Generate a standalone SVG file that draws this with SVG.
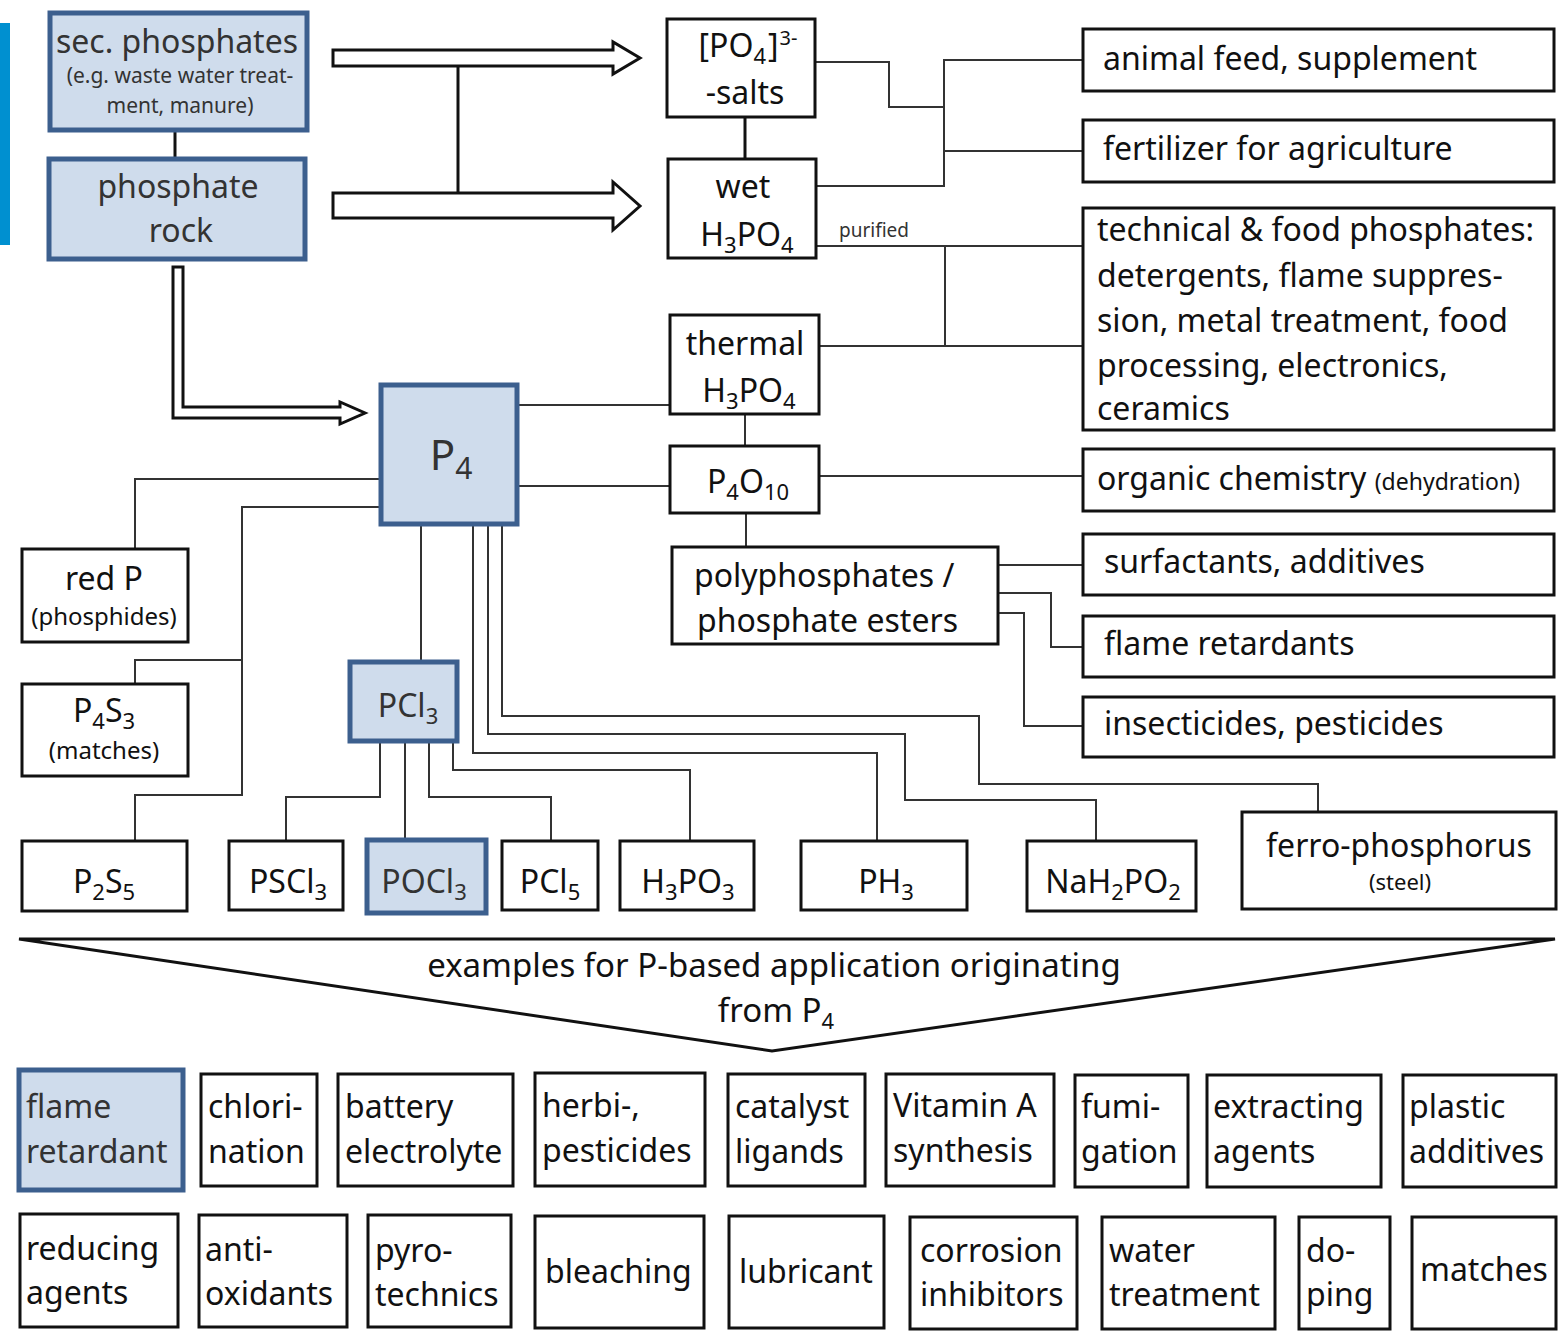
<svg xmlns="http://www.w3.org/2000/svg" width="1562" height="1333" viewBox="0 0 1562 1333">
<style>
.box{fill:#fff;stroke:#111;stroke-width:3}
.bbox{fill:#cfdcec;stroke:#3c5f8e;stroke-width:5}
.ln{fill:none;stroke:#333;stroke-width:2}
.arr{fill:#fff;stroke:#111;stroke-width:3;stroke-linejoin:miter}
.t{font-family:"Noto Sans","Open Sans",sans-serif;font-size:32px;fill:#111}
.g{fill:#333}
.c{text-anchor:middle}
.s{font-size:24px}
.sub{font-size:22px;baseline-shift:-7px}
.sup{font-size:20px;baseline-shift:12px}
</style>
<rect x="0" y="23" width="10" height="222" fill="#0090d0"/>

<g id="connectors">
  <path class="arr" d="M333,50 H613 V42 L640,58 L613,74 V66 H333 Z"/>
  <path class="arr" d="M333,193 H613 V182 L640,206 L613,230 V218 H333 Z"/>
  <path class="arr" d="M173,267 H183 V407 H340 V402 L365,413 L340,424 V418 H173 Z"/>
  <line class="ln" x1="458" y1="66" x2="458" y2="193" style="stroke-width:3;stroke:#111"/>
  <line class="ln" x1="175" y1="132" x2="175" y2="157" style="stroke-width:3;stroke:#111"/>
  <line class="ln" x1="745" y1="118" x2="745" y2="158" style="stroke-width:3;stroke:#111"/>
  <path class="ln" d="M816,62 H889 V107 H944"/>
  <path class="ln" d="M1083,60 H944 V186 H816"/>
  <path class="ln" d="M944,151 H1083"/>
  <path class="ln" d="M816,246 H1083"/>
  <path class="ln" d="M945,246 V346"/>
  <path class="ln" d="M819,346 H1083"/>
  <path class="ln" d="M518,405 H670"/>
  <path class="ln" d="M745,415 V445"/>
  <path class="ln" d="M518,486 H670"/>
  <path class="ln" d="M819,476 H1083"/>
  <path class="ln" d="M746,513 V547"/>
  <path class="ln" d="M998,565 H1083"/>
  <path class="ln" d="M998,593 H1051 V647 H1083"/>
  <path class="ln" d="M998,613 H1024 V726 H1083"/>
  <path class="ln" d="M379,479 H135 V548"/>
  <path class="ln" d="M379,507 H242 V795 H135 V840"/>
  <path class="ln" d="M242,660 H135 V683"/>
  <path class="ln" d="M421,526 V660"/>
  <path class="ln" d="M502,526 V716 H979 V784 H1318 V812"/>
  <path class="ln" d="M488,526 V734 H905 V800 H1096 V840"/>
  <path class="ln" d="M473,526 V753 H877 V840"/>
  <path class="ln" d="M380,743 V797 H286 V840"/>
  <path class="ln" d="M405,743 V838"/>
  <path class="ln" d="M429,743 V797 H551 V840"/>
  <path class="ln" d="M453,743 V770 H690 V840"/>
  <polygon points="19,939 1555,939 772,1051" fill="none" stroke="#111" stroke-width="3"/>
</g>

<g id="sec-phosphates">
  <rect class="bbox" x="50" y="13" width="257" height="117"/>
  <text class="t g c" x="177" y="53">sec. phosphates</text>
  <text class="t g c" x="180" y="83" style="font-size:21px">(e.g. waste water treat-</text>
  <text class="t g c" x="180" y="113" style="font-size:21px">ment, manure)</text>
</g>
<g id="phosphate-rock">
  <rect class="bbox" x="49" y="159" width="256" height="100"/>
  <text class="t g c" x="178" y="198">phosphate</text>
  <text class="t g c" x="181" y="242">rock</text>
</g>
<g id="po4-salts">
  <rect class="box" x="667" y="19" width="148" height="98"/>
  <text class="t c" x="748" y="57">[PO<tspan class="sub">4</tspan><tspan dx="2">]</tspan><tspan class="sup" dx="1">3-</tspan></text>
  <text class="t c" x="745" y="104">-salts</text>
</g>
<g id="wet-h3po4">
  <rect class="box" x="668" y="159" width="148" height="99"/>
  <text class="t c" x="743" y="198">wet</text>
  <text class="t c" x="747" y="246">H<tspan class="sub">3</tspan>PO<tspan class="sub">4</tspan></text>
  <text class="t" x="839" y="237" style="font-size:19px;fill:#333">purified</text>
</g>
<g id="thermal-h3po4">
  <rect class="box" x="670" y="315" width="149" height="99"/>
  <text class="t c" x="745" y="355">thermal</text>
  <text class="t c" x="749" y="402">H<tspan class="sub">3</tspan>PO<tspan class="sub">4</tspan></text>
</g>
<g id="p4">
  <rect class="bbox" x="381" y="385" width="136" height="139"/>
  <text class="t g c" x="451" y="470" style="font-size:42px">P<tspan style="font-size:30px;baseline-shift:-9px">4</tspan></text>
</g>
<g id="p4o10">
  <rect class="box" x="670" y="446" width="149" height="67"/>
  <text class="t c" x="748" y="493">P<tspan class="sub">4</tspan>O<tspan class="sub">10</tspan></text>
</g>
<g id="polyphosphates">
  <rect class="box" x="672" y="547" width="326" height="97"/>
  <text class="t" x="694" y="587">polyphosphates /</text>
  <text class="t" x="697" y="632">phosphate esters</text>
</g>
<g id="animal-feed">
  <rect class="box" x="1083" y="29" width="471" height="62"/>
  <text class="t" x="1103" y="70">animal feed, supplement</text>
</g>
<g id="fertilizer">
  <rect class="box" x="1083" y="120" width="471" height="62"/>
  <text class="t" x="1103" y="160">fertilizer for agriculture</text>
</g>
<g id="technical">
  <rect class="box" x="1083" y="208" width="471" height="222"/>
  <text class="t" x="1097" y="241">technical &amp; food phosphates:</text>
  <text class="t" x="1097" y="287">detergents, flame suppres-</text>
  <text class="t" x="1097" y="332">sion, metal treatment, food</text>
  <text class="t" x="1097" y="377">processing, electronics,</text>
  <text class="t" x="1097" y="420">ceramics</text>
</g>
<g id="organic">
  <rect class="box" x="1083" y="449" width="471" height="62"/>
  <text class="t" x="1097" y="490">organic chemistry <tspan style="font-size:23px">(dehydration)</tspan></text>
</g>
<g id="surfactants">
  <rect class="box" x="1083" y="534" width="471" height="61"/>
  <text class="t" x="1104" y="573">surfactants, additives</text>
</g>
<g id="flame-retardants">
  <rect class="box" x="1083" y="616" width="471" height="61"/>
  <text class="t" x="1104" y="655">flame retardants</text>
</g>
<g id="insecticides">
  <rect class="box" x="1083" y="697" width="471" height="60"/>
  <text class="t" x="1104" y="735">insecticides, pesticides</text>
</g>
<g id="red-p">
  <rect class="box" x="22" y="549" width="166" height="93"/>
  <text class="t c" x="104" y="590">red P</text>
  <text class="t c s" x="104" y="625">(phosphides)</text>
</g>
<g id="p4s3">
  <rect class="box" x="22" y="684" width="166" height="92"/>
  <text class="t c" x="104" y="722">P<tspan class="sub">4</tspan>S<tspan class="sub">3</tspan></text>
  <text class="t c s" x="104" y="759">(matches)</text>
</g>
<g id="pcl3">
  <rect class="bbox" x="350" y="662" width="107" height="79"/>
  <text class="t g c" x="408" y="717">PCl<tspan class="sub">3</tspan></text>
</g>
<g id="p2s5">
  <rect class="box" x="22" y="841" width="165" height="70"/>
  <text class="t c" x="104" y="893">P<tspan class="sub">2</tspan>S<tspan class="sub">5</tspan></text>
</g>
<g id="pscl3">
  <rect class="box" x="229" y="841" width="114" height="69"/>
  <text class="t c" x="288" y="893">PSCl<tspan class="sub">3</tspan></text>
</g>
<g id="pocl3">
  <rect class="bbox" x="367" y="840" width="119" height="73"/>
  <text class="t g c" x="424" y="893">POCl<tspan class="sub">3</tspan></text>
</g>
<g id="pcl5">
  <rect class="box" x="502" y="841" width="96" height="69"/>
  <text class="t c" x="550" y="893">PCl<tspan class="sub">5</tspan></text>
</g>
<g id="h3po3">
  <rect class="box" x="620" y="841" width="134" height="69"/>
  <text class="t c" x="688" y="893">H<tspan class="sub">3</tspan>PO<tspan class="sub">3</tspan></text>
</g>
<g id="ph3">
  <rect class="box" x="801" y="841" width="166" height="69"/>
  <text class="t c" x="886" y="893">PH<tspan class="sub">3</tspan></text>
</g>
<g id="nah2po2">
  <rect class="box" x="1027" y="841" width="169" height="70"/>
  <text class="t c" x="1113" y="893">NaH<tspan class="sub">2</tspan>PO<tspan class="sub">2</tspan></text>
</g>
<g id="ferro">
  <rect class="box" x="1242" y="812" width="314" height="97"/>
  <text class="t c" x="1399" y="857">ferro-phosphorus</text>
  <text class="t c" x="1400" y="890" style="font-size:22px">(steel)</text>
</g>

<g id="examples-label">
  <text class="t c" x="774" y="977" style="font-size:33px">examples for P-based application originating</text>
  <text class="t c" x="776" y="1022" style="font-size:33px">from P<tspan class="sub">4</tspan></text>
</g>

<g id="app-flame-retardant"><rect class="bbox" x="19" y="1070" width="164" height="120"/><text class="t g" x="26" y="1118">flame</text><text class="t g" x="26" y="1163">retardant</text></g>
<g id="app-chlorination"><rect class="box" x="201" y="1074" width="116" height="112"/><text class="t" x="208" y="1118">chlori-</text><text class="t" x="208" y="1163">nation</text></g>
<g id="app-battery"><rect class="box" x="338" y="1074" width="175" height="112"/><text class="t" x="345" y="1118">battery</text><text class="t" x="345" y="1163">electrolyte</text></g>
<g id="app-herbi"><rect class="box" x="535" y="1073" width="170" height="113"/><text class="t" x="542" y="1117">herbi-,</text><text class="t" x="542" y="1162">pesticides</text></g>
<g id="app-catalyst"><rect class="box" x="728" y="1074" width="137" height="112"/><text class="t" x="735" y="1118">catalyst</text><text class="t" x="735" y="1163">ligands</text></g>
<g id="app-vitamin"><rect class="box" x="886" y="1074" width="168" height="112"/><text class="t" x="893" y="1117">Vitamin A</text><text class="t" x="893" y="1162">synthesis</text></g>
<g id="app-fumigation"><rect class="box" x="1075" y="1075" width="113" height="112"/><text class="t" x="1081" y="1118">fumi-</text><text class="t" x="1081" y="1163">gation</text></g>
<g id="app-extracting"><rect class="box" x="1207" y="1075" width="174" height="112"/><text class="t" x="1213" y="1118">extracting</text><text class="t" x="1213" y="1163">agents</text></g>
<g id="app-plastic"><rect class="box" x="1403" y="1075" width="153" height="112"/><text class="t" x="1409" y="1118">plastic</text><text class="t" x="1409" y="1163">additives</text></g>

<g id="app-reducing"><rect class="box" x="20" y="1214" width="158" height="113"/><text class="t" x="26" y="1260">reducing</text><text class="t" x="26" y="1304">agents</text></g>
<g id="app-antioxidants"><rect class="box" x="199" y="1215" width="148" height="112"/><text class="t" x="205" y="1261">anti-</text><text class="t" x="205" y="1305">oxidants</text></g>
<g id="app-pyrotechnics"><rect class="box" x="368" y="1215" width="143" height="112"/><text class="t" x="375" y="1262">pyro-</text><text class="t" x="375" y="1306">technics</text></g>
<g id="app-bleaching"><rect class="box" x="535" y="1216" width="169" height="112"/><text class="t" x="545" y="1283">bleaching</text></g>
<g id="app-lubricant"><rect class="box" x="729" y="1216" width="155" height="112"/><text class="t" x="739" y="1283">lubricant</text></g>
<g id="app-corrosion"><rect class="box" x="910" y="1217" width="167" height="112"/><text class="t" x="920" y="1262">corrosion</text><text class="t" x="920" y="1306">inhibitors</text></g>
<g id="app-water"><rect class="box" x="1102" y="1217" width="173" height="112"/><text class="t" x="1109" y="1262">water</text><text class="t" x="1109" y="1306">treatment</text></g>
<g id="app-doping"><rect class="box" x="1299" y="1217" width="91" height="112"/><text class="t" x="1306" y="1262">do-</text><text class="t" x="1306" y="1306">ping</text></g>
<g id="app-matches"><rect class="box" x="1412" y="1217" width="144" height="112"/><text class="t" x="1420" y="1281">matches</text></g>
</svg>
